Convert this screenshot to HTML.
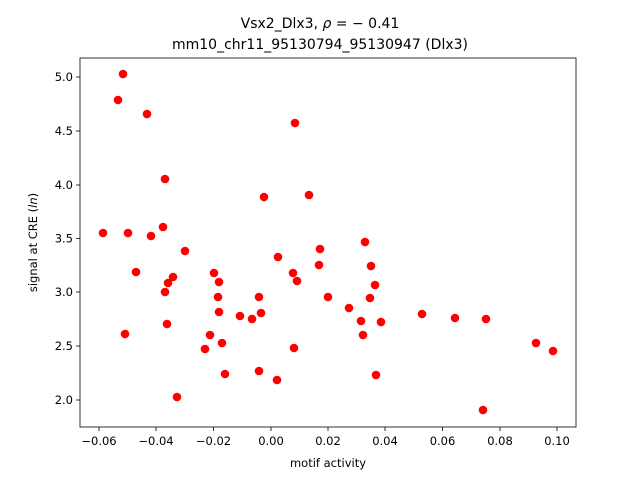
<!DOCTYPE html>
<html><head><meta charset="utf-8"><style>body{margin:0;background:#fff}svg{display:block}text{font-family:"DejaVu Sans","Liberation Sans",sans-serif;fill:#000}</style></head><body>
<svg width="640" height="480" viewBox="0 0 640 480" xmlns="http://www.w3.org/2000/svg">
<rect width="640" height="480" fill="#fff"/>
<text x="320" y="28" font-size="14" text-anchor="middle">Vsx2_Dlx3, <tspan font-style="italic">ρ</tspan> = − 0.41</text>
<text x="320" y="49" font-size="14" text-anchor="middle">mm10_chr11_95130794_95130947 (Dlx3)</text>
<g fill="#ff0000">
<circle cx="123" cy="74" r="4.3"/><circle cx="118" cy="100" r="4.3"/><circle cx="147" cy="114" r="4.3"/><circle cx="295" cy="123" r="4.3"/>
<circle cx="165" cy="179" r="4.3"/><circle cx="309" cy="195" r="4.3"/><circle cx="264" cy="197" r="4.3"/><circle cx="103" cy="233" r="4.3"/>
<circle cx="128" cy="233" r="4.3"/><circle cx="163" cy="227" r="4.3"/><circle cx="151" cy="236" r="4.3"/><circle cx="185" cy="251" r="4.3"/>
<circle cx="320" cy="249" r="4.3"/><circle cx="278" cy="257" r="4.3"/><circle cx="319" cy="265" r="4.3"/><circle cx="365" cy="242" r="4.3"/>
<circle cx="371" cy="266" r="4.3"/><circle cx="136" cy="272" r="4.3"/><circle cx="173" cy="277" r="4.3"/><circle cx="214" cy="273" r="4.3"/>
<circle cx="293" cy="273" r="4.3"/><circle cx="297" cy="281" r="4.3"/><circle cx="165" cy="292" r="4.3"/><circle cx="219" cy="282" r="4.3"/>
<circle cx="218" cy="297" r="4.3"/><circle cx="259" cy="297" r="4.3"/><circle cx="328" cy="297" r="4.3"/><circle cx="375" cy="285" r="4.3"/>
<circle cx="370" cy="298" r="4.3"/><circle cx="168" cy="283" r="4.3"/><circle cx="219" cy="312" r="4.3"/><circle cx="240" cy="316" r="4.3"/>
<circle cx="252" cy="319" r="4.3"/><circle cx="261" cy="313" r="4.3"/><circle cx="349" cy="308" r="4.3"/><circle cx="361" cy="321" r="4.3"/>
<circle cx="381" cy="322" r="4.3"/><circle cx="422" cy="314" r="4.3"/><circle cx="455" cy="318" r="4.3"/><circle cx="486" cy="319" r="4.3"/>
<circle cx="363" cy="335" r="4.3"/><circle cx="125" cy="334" r="4.3"/><circle cx="167" cy="324" r="4.3"/><circle cx="210" cy="335" r="4.3"/>
<circle cx="222" cy="343" r="4.3"/><circle cx="205" cy="349" r="4.3"/><circle cx="294" cy="348" r="4.3"/><circle cx="536" cy="343" r="4.3"/>
<circle cx="553" cy="351" r="4.3"/><circle cx="259" cy="371" r="4.3"/><circle cx="225" cy="374" r="4.3"/><circle cx="376" cy="375" r="4.3"/>
<circle cx="277" cy="380" r="4.3"/><circle cx="177" cy="397" r="4.3"/><circle cx="483" cy="410" r="4.3"/>
</g>
<rect x="80" y="58" width="496" height="369" fill="none" stroke="#000" stroke-width="0.8"/>
<g stroke="#000" stroke-width="0.8">
<line x1="99" y1="427" x2="99" y2="431"/><line x1="156" y1="427" x2="156" y2="431"/><line x1="213.5" y1="427" x2="213.5" y2="431"/><line x1="271" y1="427" x2="271" y2="431"/><line x1="328" y1="427" x2="328" y2="431"/><line x1="385" y1="427" x2="385" y2="431"/><line x1="442.5" y1="427" x2="442.5" y2="431"/><line x1="500" y1="427" x2="500" y2="431"/><line x1="557" y1="427" x2="557" y2="431"/>
<line x1="76" y1="77" x2="80" y2="77"/><line x1="76" y1="131" x2="80" y2="131"/><line x1="76" y1="185" x2="80" y2="185"/><line x1="76" y1="238.5" x2="80" y2="238.5"/><line x1="76" y1="292" x2="80" y2="292"/><line x1="76" y1="346" x2="80" y2="346"/><line x1="76" y1="400" x2="80" y2="400"/>
</g>
<g font-size="11.5" text-anchor="middle">
<text x="99" y="445">−0.06</text><text x="156" y="445">−0.04</text><text x="213.5" y="445">−0.02</text><text x="271" y="445">0.00</text><text x="328" y="445">0.02</text><text x="385" y="445">0.04</text><text x="442.5" y="445">0.06</text><text x="500" y="445">0.08</text><text x="557" y="445">0.10</text>
</g>
<g font-size="11.5" text-anchor="end">
<text x="73" y="81">5.0</text><text x="73" y="135">4.5</text><text x="73" y="189">4.0</text><text x="73" y="242.5">3.5</text><text x="73" y="296">3.0</text><text x="73" y="350">2.5</text><text x="73" y="404">2.0</text>
</g>
<text x="328" y="467" font-size="11.5" text-anchor="middle">motif activity</text>
<text transform="translate(37,242.5) rotate(-90)" font-size="11.5" text-anchor="middle">signal at CRE (<tspan font-style="italic">ln</tspan>)</text>
</svg>
</body></html>
